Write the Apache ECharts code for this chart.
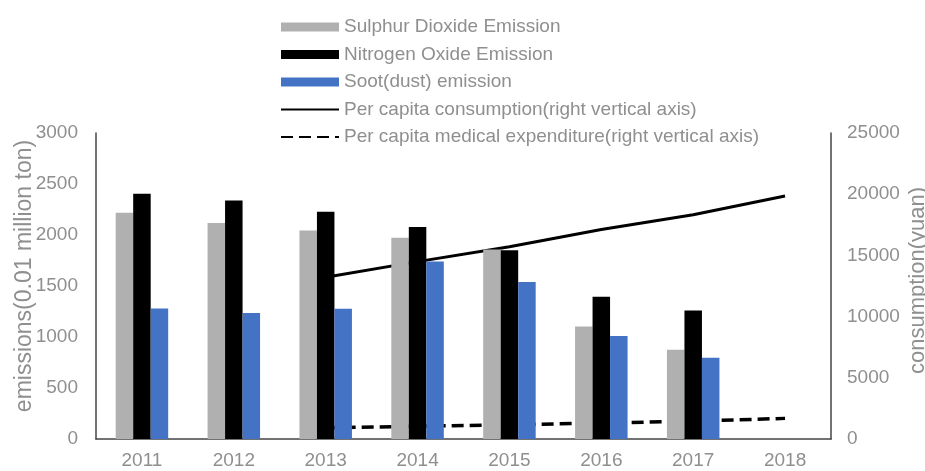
<!DOCTYPE html>
<html>
<head>
<meta charset="utf-8">
<script src="https://cdn.jsdelivr.net/npm/echarts@6/dist/echarts.min.js"></script>
<style>
  html, body { margin: 0; padding: 0; background: #fff; }
  #chart { width: 925px; height: 471px; }
</style>
</head>
<body>
<div id="chart"></div>
<script>
// Categories (years)
const years = ['2011', '2012', '2013', '2014', '2015', '2016', '2017', '2018'];

// Emissions, unit: 0.01 million ton (left axis)
const sulphurDioxide = [2218, 2118, 2044, 1974, 1859, 1103, 875, null];
const nitrogenOxide  = [2404, 2338, 2227, 2078, 1851, 1394, 1259, null];
const sootDust       = [1279, 1236, 1278, 1741, 1538, 1011, 796, null];

// Per capita figures, unit: yuan (right axis)
const perCapitaConsumption = [null, null, 13220, 14491, 15712, 17111, 18322, 19853];
const perCapitaMedical     = [null, null, 912, 1045, 1165, 1307, 1451, 1685];

// Axis scales
const leftMax = 3000, leftStep = 500;
const rightMax = 25000, rightStep = 5000;

const seriesNames = [
  'Sulphur Dioxide Emission',
  'Nitrogen Oxide Emission',
  'Soot(dust) emission',
  'Per capita consumption(right vertical axis)',
  'Per capita medical expenditure(right vertical axis)'
];

const FONT = '"Liberation Sans", Arial, sans-serif';
const TEXT_GRAY = '#8f8f8f';
const AXIS_COLOR = '#444';

const chart = echarts.init(document.getElementById('chart'), null, { renderer: 'canvas' });

const barCommon = { type: 'bar', barWidth: 17.5, barGap: '0%', z: 3 };
const plainNumber = v => String(v);

chart.setOption({
  animation: false,
  backgroundColor: '#fff',
  grid: { left: 96, right: 94, top: 133, bottom: 32, containLabel: false, outerBoundsMode: 'none' },
  legend: {
    orient: 'vertical',
    left: 275,
    top: 11,
    itemWidth: 58,
    itemHeight: 9,
    itemGap: 5.5,
    textStyle: { fontFamily: FONT, fontSize: 19, color: TEXT_GRAY, lineHeight: 22 },
    data: [
      { name: seriesNames[0], icon: 'rect' },
      { name: seriesNames[1], icon: 'rect' },
      { name: seriesNames[2], icon: 'rect' },
      { name: seriesNames[3], itemStyle: { opacity: 0 } },
      { name: seriesNames[4], itemStyle: { opacity: 0 } }
    ]
  },
  xAxis: {
    type: 'category',
    data: years,
    boundaryGap: true,
    axisLine: { show: true, lineStyle: { color: AXIS_COLOR, width: 1.5 } },
    axisTick: { show: false },
    axisLabel: { margin: 12, fontFamily: FONT, fontSize: 19, color: TEXT_GRAY }
  },
  yAxis: [
    {
      type: 'value',
      min: 0,
      max: leftMax,
      interval: leftStep,
      name: 'emissions(0.01 million ton)',
      nameLocation: 'middle',
      nameRotate: 90,
      nameGap: 60,
      nameMoveOverlap: false,
      nameTextStyle: { fontFamily: FONT, fontSize: 23, color: TEXT_GRAY, padding: [0, 0, 0, 20] },
      axisLine: { show: true, lineStyle: { color: AXIS_COLOR, width: 1.5 } },
      axisTick: { show: false },
      splitLine: { show: false },
      axisLabel: { margin: 18, fontFamily: FONT, fontSize: 19, color: TEXT_GRAY, formatter: plainNumber }
    },
    {
      type: 'value',
      min: 0,
      max: rightMax,
      interval: rightStep,
      position: 'right',
      name: 'consumption(yuan)',
      nameLocation: 'middle',
      nameRotate: 90,
      nameGap: 76,
      nameMoveOverlap: false,
      nameTextStyle: { fontFamily: FONT, fontSize: 22, color: TEXT_GRAY, padding: [0, 0, 0, 11] },
      axisLine: { show: true, lineStyle: { color: AXIS_COLOR, width: 1.5 } },
      axisTick: { show: false },
      splitLine: { show: false },
      axisLabel: { margin: 16, fontFamily: FONT, fontSize: 19, color: TEXT_GRAY, formatter: plainNumber }
    }
  ],
  series: [
    Object.assign({}, barCommon, { name: seriesNames[0], data: sulphurDioxide, itemStyle: { color: '#b0b0b0' } }),
    Object.assign({}, barCommon, { name: seriesNames[1], data: nitrogenOxide, itemStyle: { color: '#000000' } }),
    Object.assign({}, barCommon, { name: seriesNames[2], data: sootDust, itemStyle: { color: '#4472c4' } }),
    {
      name: seriesNames[3],
      type: 'line',
      yAxisIndex: 1,
      data: perCapitaConsumption,
      symbol: 'none',
      z: 1,
      itemStyle: { color: '#000' },
      lineStyle: { color: '#000', width: 3 }
    },
    {
      name: seriesNames[4],
      type: 'line',
      yAxisIndex: 1,
      data: perCapitaMedical,
      symbol: 'none',
      z: 1,
      itemStyle: { color: '#000' },
      lineStyle: { color: '#000', width: 3.5, type: [12, 6] }
    }
  ]
});
</script>
</body>
</html>
